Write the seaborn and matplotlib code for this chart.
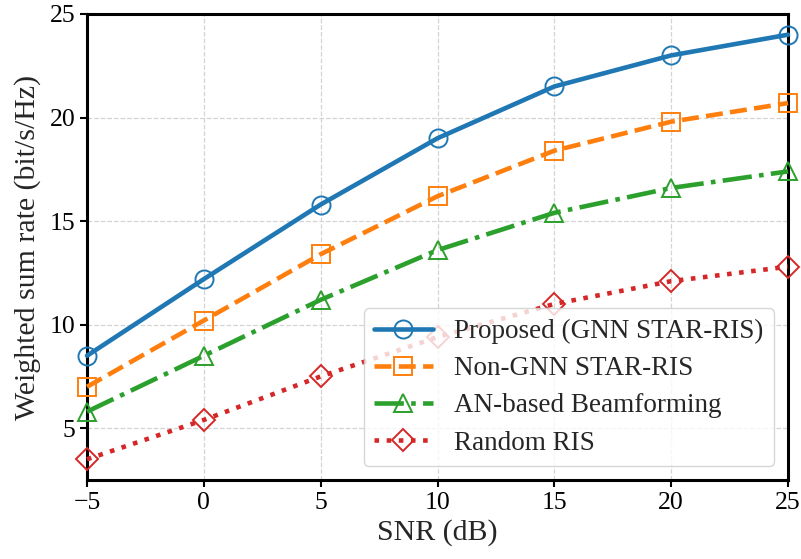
import matplotlib
matplotlib.use("Agg")
import matplotlib.pyplot as plt
import seaborn as sns
import pandas as pd

snr_db = [-5, 0, 5, 10, 15, 20, 25]
proposed = [8.5, 12.2, 15.8, 19.0, 21.5, 23.0, 24.0]
non_gnn = [7.0, 10.2, 13.4, 16.2, 18.4, 19.8, 20.7]
an_beam = [5.8, 8.5, 11.2, 13.6, 15.4, 16.6, 17.4]
random_ris = [3.5, 5.4, 7.5, 9.4, 11.0, 12.1, 12.8]

labels = ["Proposed (GNN STAR-RIS)", "Non-GNN STAR-RIS",
          "AN-based Beamforming", "Random RIS"]
series = [proposed, non_gnn, an_beam, random_ris]
styles = ["-", "--", "-.", ":"]
markers = ["o", "s", "^", "D"]

sns.set_theme(style="whitegrid")
plt.rcParams["font.family"] = ["Liberation Serif", "DejaVu Serif"]
plt.rcParams["mathtext.fontset"] = "stix"

palette = sns.color_palette("tab10", 4)

fig, ax = plt.subplots(figsize=(8.01, 5.59), dpi=100)
fig.subplots_adjust(left=0.1086, right=0.9838, top=0.975, bottom=0.1413)

for vals, lab, ls, mk, col in zip(series, labels, styles, markers, palette):
    df = pd.DataFrame({"snr": snr_db, "rate": vals})
    sns.lineplot(data=df, x="snr", y="rate", ax=ax, label=lab, color=col,
                 linestyle=ls, linewidth=3.3, marker=mk,
                 markersize=13 if mk != "D" else 11,
                 markerfacecolor="none", markeredgecolor=col,
                 markeredgewidth=1.4, clip_on=False, zorder=3)

ax.set_xlim(-5, 25)
ax.set_ylim(2.5, 25)
ax.set_xticks([-5, 0, 5, 10, 15, 20, 25])
ax.set_yticks([5, 10, 15, 20, 25])
ax.set_xlabel("SNR (dB)", fontsize=21.5, labelpad=4)
ax.set_ylabel("Weighted sum rate (bit/s/Hz)", fontsize=21.5, labelpad=6)
ax.tick_params(axis="both", labelsize=18.5, colors="black", length=5,
               width=1.5, direction="out", left=True, bottom=True)

ax.grid(True, linestyle="--", color="#d4d4d4", linewidth=0.9)
for s in ax.spines.values():
    s.set_color("black")
    s.set_linewidth(2.2)

leg = ax.legend(loc="lower right", fontsize=19.5, frameon=True,
                framealpha=0.8, edgecolor="#cccccc", fancybox=True,
                handlelength=2.15, handletextpad=0.8, borderpad=0.4,
                labelspacing=0.45)

fig.savefig("out.png", dpi=100)
